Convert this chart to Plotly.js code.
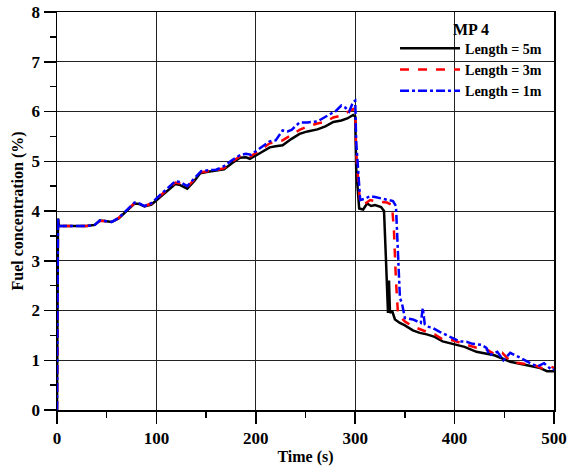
<!DOCTYPE html>
<html><head><meta charset="utf-8">
<script src="https://cdn.plot.ly/plotly-3.0.1.min.js"></script>
<style>html,body{margin:0;padding:0;background:#fff}#chart{width:568px;height:472px}</style>
</head><body><div id="chart"></div>
<script>
// Length = 5m
const t5 = [0,1,2,10,20,30,38,43,48,55,62,70,78,83,88,95,104,112,119,124,131,138,144,152,161,168,176,184,190,194,204,214,220,227,236,244,252,262,270,278,286,292,298,300,301,302,304,308,312,316,320,326,329,331,333,334,335,337,340,345,350,358,365,372,380,388,398,410,422,440,456,475,485,493,500];
const c5 = [0,3.85,3.7,3.7,3.7,3.7,3.72,3.81,3.8,3.78,3.85,4.0,4.15,4.14,4.09,4.13,4.28,4.42,4.54,4.52,4.45,4.6,4.76,4.79,4.81,4.84,4.96,5.07,5.08,5.05,5.16,5.28,5.3,5.32,5.45,5.55,5.6,5.64,5.7,5.79,5.82,5.86,5.93,5.9,4.85,4.5,4.05,4.03,4.15,4.1,4.12,4.08,4.0,3.0,1.95,2.6,1.95,2.0,1.82,1.75,1.7,1.6,1.55,1.52,1.47,1.38,1.33,1.27,1.17,1.1,0.97,0.9,0.85,0.78,0.78];
// Length = 3m
const t3 = [0,1,2,10,20,30,38,43,48,55,62,70,78,83,88,95,104,112,119,124,131,138,145,152,160,168,176,184,190,195,204,214,220,227,236,244,252,262,270,278,286,292,298,300,301,303,305,310,315,320,326,332,337,339,341,343,345,350,358,365,372,380,388,398,410,422,432,440,448,455,463,472,480,488,495,500];
const c3 = [0,3.8,3.7,3.7,3.7,3.7,3.72,3.8,3.8,3.78,3.86,4.02,4.16,4.15,4.1,4.15,4.3,4.45,4.57,4.55,4.48,4.62,4.78,4.8,4.82,4.86,4.99,5.1,5.12,5.1,5.22,5.36,5.39,5.42,5.53,5.63,5.7,5.76,5.79,5.88,5.92,5.98,6.05,6.0,5.2,4.6,4.15,4.15,4.22,4.2,4.18,4.17,4.12,3.6,2.6,1.95,1.88,1.78,1.68,1.62,1.57,1.52,1.42,1.4,1.32,1.25,1.22,1.12,1.15,1.0,0.95,0.92,0.9,0.84,0.88,0.85];
// Length = 1m
const t1 = [0,1,2,10,20,30,38,43,48,55,62,70,78,83,88,95,104,112,119,124,131,138,145,152,160,168,176,184,190,195,204,214,220,227,232,236,244,252,262,270,275,280,286,290,294,298,300,301,303,305,310,315,320,326,332,338,341,343,345,347,350,358,366,368,370,372,378,385,395,405,412,418,427,432,435,443,449,456,466,476,483,490,498,500];
const c1 = [0,3.85,3.7,3.7,3.7,3.7,3.72,3.81,3.8,3.78,3.86,4.02,4.17,4.15,4.1,4.16,4.32,4.48,4.6,4.58,4.5,4.65,4.8,4.82,4.83,4.9,5.02,5.12,5.15,5.13,5.26,5.4,5.42,5.62,5.6,5.63,5.78,5.78,5.8,5.9,5.95,6.0,6.12,6.08,6.0,6.2,6.22,5.4,4.7,4.22,4.25,4.3,4.28,4.25,4.22,4.2,4.1,3.0,2.25,2.15,1.85,1.82,1.75,2.05,1.72,1.68,1.65,1.57,1.47,1.38,1.37,1.33,1.31,1.25,1.1,1.17,1.0,1.15,1.05,0.94,0.87,0.94,0.8,0.82];

const seriesNames = ['Length = 5m','Length = 3m','Length = 1m'];
const legendTitle = 'MP 4';
const F = 'Liberation Serif, Times New Roman, serif';

const traces = [
  {x:t5, y:c5, name:seriesNames[0], mode:'lines', line:{color:'#000000', width:2.5}},
  {x:t3, y:c3, name:seriesNames[1], mode:'lines', line:{color:'#ff0000', width:2.5, dash:'dash'}},
  {x:t1, y:c1, name:seriesNames[2], mode:'lines', line:{color:'#0000ff', width:2.5, dash:'dashdot'}}
];

const axisCommon = {
  showline:true, mirror:true, linecolor:'#000', linewidth:1.5,
  showgrid:true, gridcolor:'#222', gridwidth:1,
  ticks:'outside', ticklen:12, tickwidth:1.5, tickcolor:'#000',
  zeroline:false,
  tickfont:{family:F, size:17, color:'#000', weight:'bold'}
};

const layout = {
  width:568, height:472,
  margin:{l:57, r:14, t:12, b:62},
  paper_bgcolor:'#fff', plot_bgcolor:'#fff',
  font:{family:F, color:'#000'},
  showlegend:true,
  legend:{
    x:0.986, y:0.948, xanchor:'right', yanchor:'top',
    bgcolor:'rgba(0,0,0,0)', borderwidth:0,
    font:{family:F, size:14, color:'#000', weight:'bold'},
    itemwidth:60,
    tracegroupgap:0
  },
  shapes:[{
    type:'rect', xref:'paper', yref:'paper', x0:0.68, x1:0.992, y0:0.774, y1:0.98,
    fillcolor:'#fff', line:{width:0}, layer:'below'
  }],
  annotations:[{
    text:'<b>'+legendTitle+'</b>', xref:'paper', yref:'paper', x:0.833, y:0.955,
    xanchor:'center', yanchor:'middle', showarrow:false,
    font:{family:F, size:16, color:'#000'}
  }],
  xaxis: Object.assign({}, axisCommon, {
    range:[0,500], dtick:100, tick0:0,
    minor:{dtick:50, ticks:'outside', ticklen:6, tickwidth:1.5, tickcolor:'#000', showgrid:false},
    title:{text:'<b>Time (s)</b>', font:{family:F, size:16, color:'#000'}, standoff:4}
  }),
  yaxis: Object.assign({}, axisCommon, {
    range:[0,8], dtick:1, tick0:0,
    minor:{dtick:0.5, ticks:'outside', ticklen:6, tickwidth:1.5, tickcolor:'#000', showgrid:false},
    title:{text:'<b>Fuel concentration (%)</b>', font:{family:F, size:16, color:'#000'}, standoff:4}
  })
};

Plotly.newPlot('chart', traces, layout, {staticPlot:true, displayModeBar:false});
</script>
</body></html>
